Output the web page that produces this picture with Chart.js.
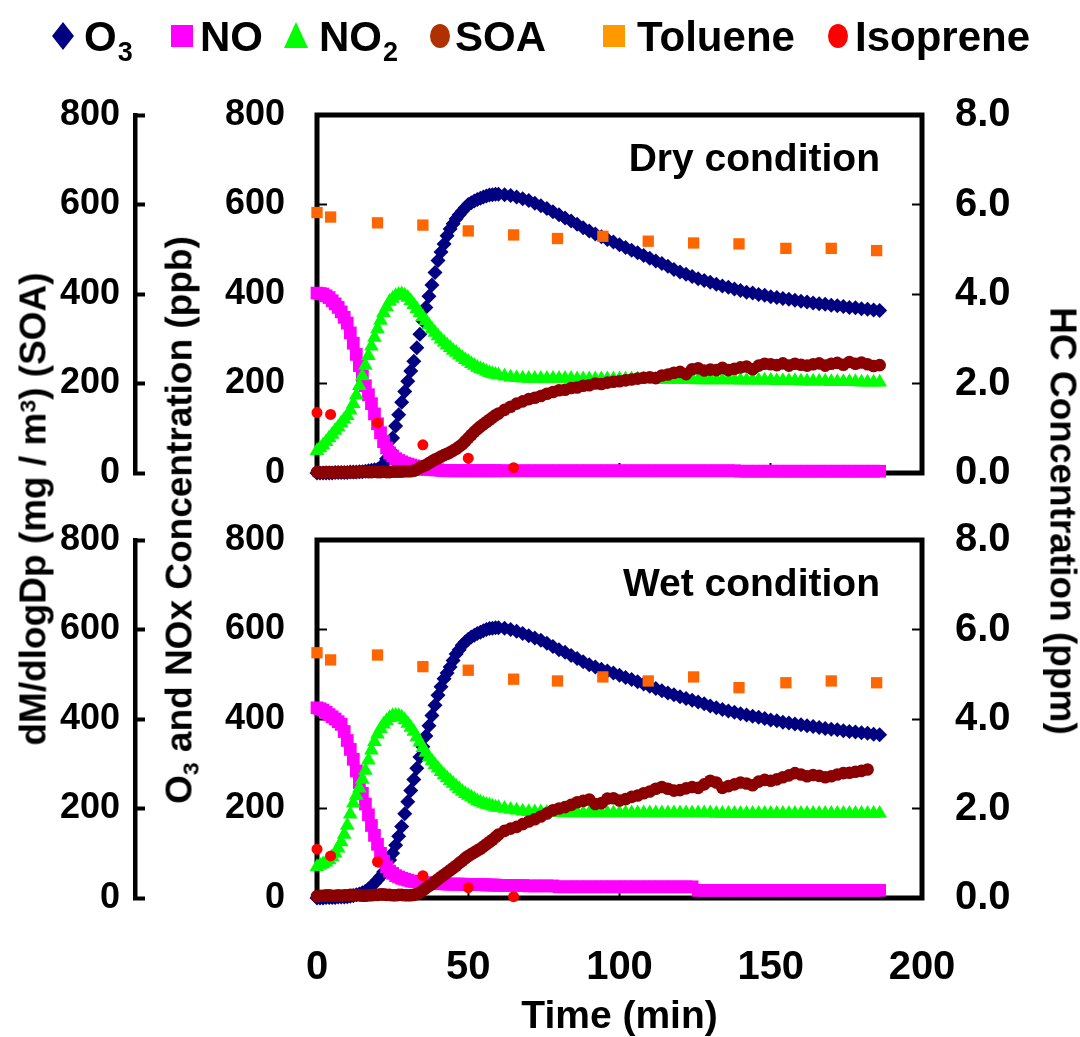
<!DOCTYPE html>
<html><head><meta charset="utf-8">
<script src="https://cdn.jsdelivr.net/npm/chart.js@4.4.1/dist/chart.umd.min.js"></script>
<style>
html,body{margin:0;padding:0;background:#fff;}
#wrap{position:relative;width:1080px;height:1037px;overflow:hidden;background:#fff;}
canvas{position:absolute;left:0;}
#c1{top:0;} #c2{top:500px;}
.vt{position:absolute;white-space:nowrap;font:bold 37px 'Liberation Sans',Arial,sans-serif;line-height:1;color:#000;transform:translate(-50%,-50%) rotate(-90deg);z-index:5;}
.vt.r{transform:translate(-50%,-50%) rotate(90deg);}
.sub{font-size:0.62em;position:relative;top:0.32em;}
.sup{font-size:0.62em;position:relative;top:-0.45em;}
</style></head>
<body><div id="wrap">
<canvas id="c1" width="1080" height="510"></canvas>
<canvas id="c2" width="1080" height="537"></canvas>
<div class="vt" style="left:33px;top:509px;">dM/dlogDp (mg / m<span class="sup">3</span>) (SOA)</div>
<div class="vt" style="left:179px;top:520px;">O<span class="sub">3</span> and NOx Concentration (ppb)</div>
<div class="vt r" style="left:1063px;top:521px;">HC Concentration (ppm)</div>
</div>
<script>
// ---------------- data ----------------
// sampling times (min): every minute up to 60, then every 2 minutes
const time = [0,1,2,3,4,5,6,7,8,9,10,11,12,13,14,15,16,17,18,19,20,21,22,23,24,25,26,27,28,29,
  30,31,32,33,34,35,36,37,38,39,40,41,42,43,44,45,46,47,48,49,50,51,52,53,54,55,56,57,58,59,60,
  62,64,66,68,70,72,74,76,78,80,82,84,86,88,90,92,94,96,98,100,102,104,106,108,110,112,114,116,118,
  120,122,124,126,128,130,132,134,136,138,140,142,144,146,148,150,152,154,156,158,160,162,164,166,168,170,172,174,176,178,
  180,182,184,186];
const hcTime = [0,4.5,20,35,50,65,79.5,94.5,109.5,124.5,139.5,155,170,185];
const isoTime = [0,4.5,20,35,50,65];

// Dry condition
const dryO3 = [0,0,0,0,0,0,1,1,1,1, 1,2,2,2,3,3,4,5,6,7, 8,12,20,32,52,78,105,130,158,182,
  205,228,250,280,310,340,370,395,420,448, 475,494,512,530,545,557,568,577,585,593, 600,604,608,611,614,617,619,621,622,623, 623,
  622,620,617,613,609,603,597,591,584, 577,570,563,556,548,541,534,528,522,516, 510,504,498,492,486,480,474,468,462,455,
  449,444,439,434,430,426,422,418,415,411, 408,404,402,399,397,394,392,390,388,386, 384,382,380,378,377,375,374,372,370,369, 367,366,364,363];
const dryNO = [402,401,400,396,392,385,378,370,360,348, 335,313,290,265,240,217,195,175,155,132, 110,90,70,56,45,38,32,28,25,22,
  20,18,16,14,13,11,10,9,8,7, 7,6,6,5,5,5,5,5,5,5, 5,5,5,5,5,5,5,5,5,5, 5,
  5,5,5,5,5,5,5,5,5, 5,5,5,5,5,5,5,5,5,5, 5,5,5,5,5,5,5,5,5,5,
  5,5,5,5,5,5,5,5,5,5, 4,4,4,4,4,4,4,4,4,4, 4,4,4,4,4,4,4,4,4,4, 4,4,4,4];
const dryNO2 = [50,56,62,70,78,86,95,103,112,120, 128,140,155,174,195,217,240,262,283,303, 322,341,358,371,383,390,396,399,400,397,
  392,385,376,367,358,349,340,331,322,314, 306,299,292,286,280,274,269,263,258,253, 249,244,240,236,233,230,227,224,222,220, 219,
  216,214,213,212,211,211,211,211,211, 211,211,211,210,210,210,210,210,210,210, 210,210,210,210,210,210,209,209,209,209,
  209,209,209,208,208,208,208,208,208,208, 207,207,207,207,207,207,206,206,206,206, 205,205,205,205,205,204,204,204,204,204, 203,203,203,203];
const drySOA = [2,1,1,2,2,1,1,2,2,1, 2,2,1,2,2,3,3,2,2,3, 2,2,3,2,2,3,3,3,3,4,
  4,4,5,8,12,15,18,22,26,30, 33,37,40,43,46,50,54,59,64,71, 78,85,92,98,104,109,114,119,124,129, 133,
  141,148,155,160,165,168,172,177,181, 185,186,190,191,195,196,200,199,202,204, 205,207,209,211,213,214,212,218,220,224,
  226,221,232,234,229,231,230,235,230,233, 236,238,232,240,244,243,241,245,240,244, 242,240,243,245,240,244,246,242,248,244, 247,243,239,241];
const dryTol = [5.82,5.72,5.59,5.54,5.41,5.32,5.24,5.29,5.18,5.14,5.12,5.02,5.02,4.97];
const dryIso = [1.35,1.31,1.12,0.63,0.33,0.12];

// Wet condition
const wetO3 = [0,0,0,1,1,1,1,2,2,2, 3,4,5,7,9,12,15,20,26,33, 40,48,58,70,85,100,118,138,160,188,
  215,240,265,290,315,338,362,385,408,431, 453,472,490,503,516,531,545,555,565,572, 578,583,587,591,594,597,600,602,603,604, 604,
  603,600,596,591,586,581,576,569,562, 555,549,542,535,528,521,516,511,507,503, 498,493,488,483,478,473,468,463,458,454,
  450,446,442,438,434,429,425,421,418,415, 412,409,406,404,401,398,396,393,391,389, 387,385,383,381,379,377,376,374,372,371, 369,368,366,365];
const wetNO = [425,423,420,415,410,405,400,394,388,372, 352,332,310,284,258,234,210,186,162,140, 120,100,82,70,60,55,50,47,44,42,
  40,38,37,36,35,34,34,33,33,32, 32,32,32,31,31,31,31,31,31,30, 30,30,30,30,30,30,29,29,29,29, 28,
  28,28,28,28,27,27,27,27,27, 25,25,25,25,25,25,25,25,25,25, 25,25,25,25,25,25,25,25,25,25,
  25,25,25,17,17,17,17,17,17,17, 17,17,17,17,17,17,17,17,17,17, 17,17,17,17,17,17,17,17,17,17, 17,17,17,17];
const wetNO2 = [70,73,76,80,85,92,100,111,125,142, 162,187,212,229,245,265,285,308,330,349, 366,378,388,396,403,407,408,407,404,398,
  390,381,372,360,348,336,325,315,306,298, 290,282,275,268,262,256,250,244,238,233, 229,225,221,217,214,211,209,207,205,203, 202,
  200,198,196,194,193,192,192,191,191, 191,190,190,190,190,190,190,190,190,190, 190,190,190,190,190,190,190,190,190,190,
  190,190,190,190,190,190,189,189,189,189, 189,189,189,189,189,189,189,189,189,189, 189,189,189,189,189,189,189,189,189,189, 189,189,189,189];
const wetSOA = [4,5,5,6,6,5,5,6,5,6, 6,7,7,6,6,5,5,6,6,7, 7,8,8,7,7,6,6,7,7,6,
  6,6,7,9,12,17,22,27,31,37, 42,47,52,57,62,67,72,78,83,89, 94,98,102,106,110,115,120,125,130,136, 142,
  150,155,159,165,171,176,182,189,196, 200,203,208,214,217,220,210,212,222,223, 218,221,226,229,234,238,244,248,244,240,
  241,245,248,246,254,262,258,246,250,254, 258,256,252,260,264,262,265,270,274,279, 276,272,275,273,270,272,276,279,280,282, 284,287,null,null];
const wetTol = [5.48,5.32,5.43,5.17,5.09,4.89,4.85,4.94,4.85,4.94,4.70,4.81,4.85,4.81];
const wetIso = [1.09,0.94,0.81,0.50,0.23,0.03];

const xTicks = [0,50,100,150,200];
const leftTicks = [0,200,400,600,800];
const hcTicks = [0,2,4,6,8];

// ---------------- chart ----------------
const FONT = "'Liberation Sans', Arial, sans-serif";
Chart.defaults.font.family = FONT;
Chart.defaults.color = '#000';

function pts(xs, ys) {
  const out = [];
  for (let i = 0; i < xs.length; i++) {
    if (ys[i] !== null && ys[i] !== undefined) out.push({x: xs[i], y: ys[i]});
  }
  return out;
}

function ds(label, xs, ys, axis, style, radius, color, order) {
  return {label, data: pts(xs, ys), yAxisID: axis, pointStyle: style, pointRadius: radius,
    pointHoverRadius: radius, backgroundColor: color, borderColor: color, pointBorderWidth: 0,
    borderWidth: 0, showLine: false, order, clip: false};
}

function makeDatasets(o3, no, no2, soa, tol, iso) {
  return [
    ds('O3', time, o3, 'y', 'rectRot', 7.5, '#000080', 6),
    ds('NO', time, no, 'y', 'rect', 9, '#FF00FF', 5),
    ds('NO2', time, no2, 'y', 'triangle', 8.5, '#00FF00', 4),
    ds('SOA', time, soa, 'ySOA', 'circle', 6.3, '#8B0000', 3),
    ds('Toluene', hcTime, tol, 'yHC', 'rect', 8, '#FF6600', 2),
    ds('Isoprene', isoTime, iso, 'yHC', 'circle', 5.5, '#FF0000', 1)
  ];
}

function fixedTicks(list) {
  return function(scale) { scale.ticks = list.map(v => ({value: v})); };
}

function noPad(s) { s.paddingTop = 0; s.paddingBottom = 0; s.paddingLeft = 0; s.paddingRight = 0; }

function makeScales(bottom) {
  const inGrid = {drawOnChartArea: false, drawTicks: true, tickLength: -10, tickWidth: 2, tickColor: '#000'};
  return {
    x: {type: 'linear', position: 'bottom', min: 0, max: 200,
      afterBuildTicks: fixedTicks(xTicks),
      ticks: {display: bottom, padding: 56, font: {size: 40, weight: 'bold'}, color: '#000', maxRotation: 0, autoSkip: false},
      grid: inGrid, border: {display: false},
      title: {display: bottom, text: 'Time (min)', font: {size: 39, weight: 'bold', lineHeight: 1}, padding: {top: 0, bottom: 0}, color: '#000'},
      afterFit(s) { s.height = bottom ? 139 : 37; noPad(s); }},
    ySOA: {type: 'linear', position: 'left', weight: 10, min: 0, max: 800,
      afterBuildTicks: fixedTicks(leftTicks),
      ticks: {padding: 25, font: {size: 36, weight: 'bold'}, color: '#000'},
      grid: {drawOnChartArea: false, drawTicks: true, tickLength: -10, tickWidth: 4, tickColor: '#000'},
      border: {display: true, color: '#000', width: 4.5},
      afterFit(s) { s.width = 135; noPad(s); }},
    y: {type: 'linear', position: 'left', weight: 1, min: 0, max: 800,
      afterBuildTicks: fixedTicks(leftTicks),
      ticks: {padding: 42, font: {size: 36, weight: 'bold'}, color: '#000'},
      grid: inGrid, border: {display: false},
      afterFit(s) { s.width = 182; noPad(s); }},
    yHC: {type: 'linear', position: 'right', min: 0, max: 8,
      afterBuildTicks: fixedTicks(hcTicks),
      ticks: {padding: 43, font: {size: 40, weight: 'bold'}, color: '#000', callback: v => Number(v).toFixed(1)},
      grid: inGrid, border: {display: false},
      afterFit(s) { s.width = 158; noPad(s); }}
  };
}

const framePlugin = {
  id: 'frame',
  beforeDatasetsDraw(chart) {
    const {ctx, chartArea: a} = chart;
    ctx.save();
    ctx.strokeStyle = '#000';
    ctx.lineWidth = 5;
    ctx.strokeRect(a.left, a.top, a.right - a.left, a.bottom - a.top);
    ctx.restore();
  }
};

const panelLabelPlugin = {
  id: 'panelLabel',
  afterDraw(chart, args, opts) {
    if (!opts || !opts.text) return;
    const {ctx, chartArea: a} = chart;
    ctx.save();
    ctx.font = "bold 39px " + FONT;
    ctx.fillStyle = '#000';
    ctx.textAlign = 'right';
    ctx.textBaseline = 'alphabetic';
    ctx.fillText(opts.text, a.right - 42, a.top + 56);
    ctx.restore();
  }
};

const legendItems = [
  {shape: 'diamond', color: '#000080', mx: 63, text: 'O', sub: '3', tx: 84},
  {shape: 'square', color: '#FF00FF', mx: 182, text: 'NO', sub: '', tx: 200},
  {shape: 'triangle', color: '#00FF00', mx: 296, text: 'NO', sub: '2', tx: 319},
  {shape: 'circle', color: '#B03000', mx: 440, text: 'SOA', sub: '', tx: 455},
  {shape: 'square', color: '#FF9900', mx: 614, text: 'Toluene', sub: '', tx: 637},
  {shape: 'circle', color: '#FF0000', mx: 838, text: 'Isoprene', sub: '', tx: 855}
];

const legendPlugin = {
  id: 'topLegend',
  afterDraw(chart, args, opts) {
    if (!opts || !opts.show) return;
    const ctx = chart.ctx;
    const cy = 36;
    ctx.save();
    legendItems.forEach(it => {
      ctx.fillStyle = it.color;
      ctx.beginPath();
      if (it.shape === 'diamond') {
        ctx.moveTo(it.mx, cy - 14); ctx.lineTo(it.mx + 11, cy); ctx.lineTo(it.mx, cy + 14); ctx.lineTo(it.mx - 11, cy); ctx.closePath();
      } else if (it.shape === 'square') {
        ctx.rect(it.mx - 11, cy - 11, 22, 22);
      } else if (it.shape === 'triangle') {
        ctx.moveTo(it.mx, cy - 14); ctx.lineTo(it.mx + 12, cy + 12); ctx.lineTo(it.mx - 12, cy + 12); ctx.closePath();
      } else {
        ctx.ellipse(it.mx, cy, 10, 12, 0, 0, Math.PI * 2);
      }
      ctx.fill();
      ctx.fillStyle = '#000';
      ctx.textAlign = 'left';
      ctx.textBaseline = 'alphabetic';
      ctx.font = "bold 42px " + FONT;
      ctx.fillText(it.text, it.tx, 51);
      if (it.sub) {
        const w = ctx.measureText(it.text).width;
        ctx.font = "bold 27px " + FONT;
        ctx.fillText(it.sub, it.tx + w + 1, 61);
      }
    });
    ctx.restore();
  }
};

function makeChart(id, bottom, data, label) {
  return new Chart(document.getElementById(id), {
    type: 'scatter',
    data: {datasets: data},
    options: {
      responsive: false, animation: false, events: [],
      layout: {padding: {top: bottom ? 40 : 115, left: 0, right: 0, bottom: 0}},
      scales: makeScales(bottom),
      plugins: {legend: {display: false}, tooltip: {enabled: false},
        panelLabel: {text: label}, topLegend: {show: !bottom}}
    },
    plugins: [framePlugin, panelLabelPlugin, legendPlugin]
  });
}

makeChart('c1', false, makeDatasets(dryO3, dryNO, dryNO2, drySOA, dryTol, dryIso), 'Dry condition');
makeChart('c2', true, makeDatasets(wetO3, wetNO, wetNO2, wetSOA, wetTol, wetIso), 'Wet condition');
</script>
</body></html>
